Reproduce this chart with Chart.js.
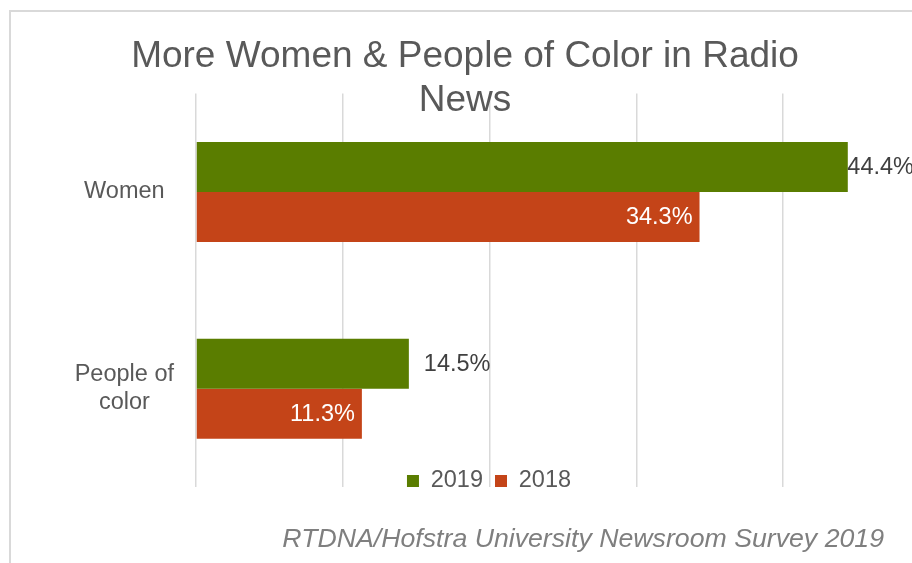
<!DOCTYPE html>
<html>
<head>
<meta charset="utf-8">
<script src="https://cdn.jsdelivr.net/npm/chart.js@4/dist/chart.umd.min.js"></script>
<style>
  html, body { margin: 0; padding: 0; background: #fff; overflow: hidden; width: 912px; height: 563px; }
  #frame { position: absolute; left: 9px; top: 10px; width: 960px; height: 620px; border: 2px solid #d9d9d9; box-sizing: border-box; }
  #c { position: absolute; left: 0; top: 0; }
</style>
</head>
<body>
<div id="frame"></div>
<canvas id="c" width="934" height="563"></canvas>
<script>
// Newsroom staffing shares, percent
const categories = ['Women', ['People of', 'color']];
const seriesNames = ['2019', '2018'];
const values2019 = [44.4, 14.5];
const values2018 = [34.3, 11.3];
const titleLines = ['More Women & People of Color in Radio', 'News'];
const sourceNote = 'RTDNA/Hofstra University Newsroom Survey 2019';

const GREEN = '#5a7d00';
const ORANGE = '#c44418';
const TEXT = '#595959';
const FONT = '"Liberation Sans", Arial, Helvetica, sans-serif';
const LABEL_SIZE = 23.5;
const NOTE_SIZE = 26.7;
const FRAME_RIGHT = 914;   // right edge labels must stay inside
const LEGEND_CENTER_X = 489;
const LEGEND_CENTER_Y = 481;
const NOTE_RIGHT = 884;
const NOTE_CENTER_Y = 540;

Chart.defaults.font.family = FONT;
Chart.defaults.color = TEXT;

// Value labels: 2019 outside the bar end, 2018 inside the bar end
const valueLabels = {
  id: 'valueLabels',
  afterDatasetsDraw(chart) {
    const ctx = chart.ctx;
    ctx.save();
    ctx.font = LABEL_SIZE + 'px ' + FONT;
    ctx.textBaseline = 'middle';
    ctx.textAlign = 'left';
    chart.data.datasets.forEach((ds, i) => {
      const meta = chart.getDatasetMeta(i);
      meta.data.forEach((bar, j) => {
        const txt = ds.data[j].toFixed(1) + '%';
        const w = ctx.measureText(txt).width;
        let x;
        if (i === 0) {
          x = Math.min(bar.x + 15, FRAME_RIGHT - w);
          ctx.fillStyle = '#404040';
        } else {
          x = bar.x - 7 - w;
          ctx.fillStyle = '#ffffff';
        }
        ctx.fillText(txt, x, bar.y + 1);
      });
    });
    ctx.restore();
  }
};

// Legend sits over the foot of the plot; the source note is right-aligned
const placeFooter = {
  id: 'placeFooter',
  afterLayout(chart) {
    const lg = chart.legend;
    if (lg) {
      const pad = lg.options.labels.padding;
      const itemH = Math.max(LABEL_SIZE, lg.options.labels.boxHeight);
      const top = LEGEND_CENTER_Y - pad - itemH / 2;
      const h = lg.bottom - lg.top;
      lg.top = top; lg.bottom = top + h;
      const dx = LEGEND_CENTER_X - (lg.left + lg.right) / 2;
      lg.left += dx; lg.right += dx;
    }
    const note = chart.boxes.find(b => b !== chart.titleBlock && b.options && b.options.text === sourceNote);
    if (note) {
      const lh = NOTE_SIZE * 1.2;
      const h = note.bottom - note.top;
      note.top = NOTE_CENTER_Y - lh / 2;
      note.bottom = note.top + h;
      note.right = NOTE_RIGHT;
      note.width = note.right - note.left;
    }
  }
};

new Chart(document.getElementById('c'), {
  type: 'bar',
  data: {
    labels: categories,
    datasets: [
      { label: seriesNames[0], data: values2019, backgroundColor: GREEN, borderWidth: 0,
        categoryPercentage: 0.508, barPercentage: 1.0 },
      { label: seriesNames[1], data: values2018, backgroundColor: ORANGE, borderWidth: 0,
        categoryPercentage: 0.508, barPercentage: 1.0 }
    ]
  },
  options: {
    indexAxis: 'y',
    responsive: false,
    animation: false,
    layout: { padding: { left: 0, right: 4, top: 0, bottom: 0 } },
    scales: {
      x: {
        min: 0, max: 50,
        ticks: { display: false, stepSize: 10 },
        grid: { color: '#d9d9d9', lineWidth: 1.5, drawTicks: false },
        border: { display: false },
        afterFit(scale) { scale.height = 0; }
      },
      y: {
        ticks: { color: TEXT, font: { size: LABEL_SIZE, lineHeight: 1.2 }, crossAlign: 'center', padding: 22 },
        grid: { display: false, drawTicks: false },
        border: { display: false },
        afterFit(scale) { scale.width = 196; }
      }
    },
    plugins: {
      title: {
        display: true,
        text: titleLines,
        color: TEXT,
        font: { size: 37, weight: 'normal', lineHeight: 1.2 },
        padding: { top: 34.3, bottom: -29.6 }
      },
      subtitle: {
        display: true,
        position: 'bottom',
        align: 'end',
        text: sourceNote,
        color: '#7f7f7f',
        font: { size: NOTE_SIZE, style: 'italic', lineHeight: 1.2 },
        padding: { top: 0, bottom: -1.8 }
      },
      legend: {
        display: true,
        position: 'bottom',
        labels: { boxWidth: 12, boxHeight: 12, padding: 12, color: TEXT, font: { size: LABEL_SIZE } }
      },
      tooltip: { enabled: false }
    }
  },
  plugins: [valueLabels, placeFooter]
});
</script>
</body>
</html>
